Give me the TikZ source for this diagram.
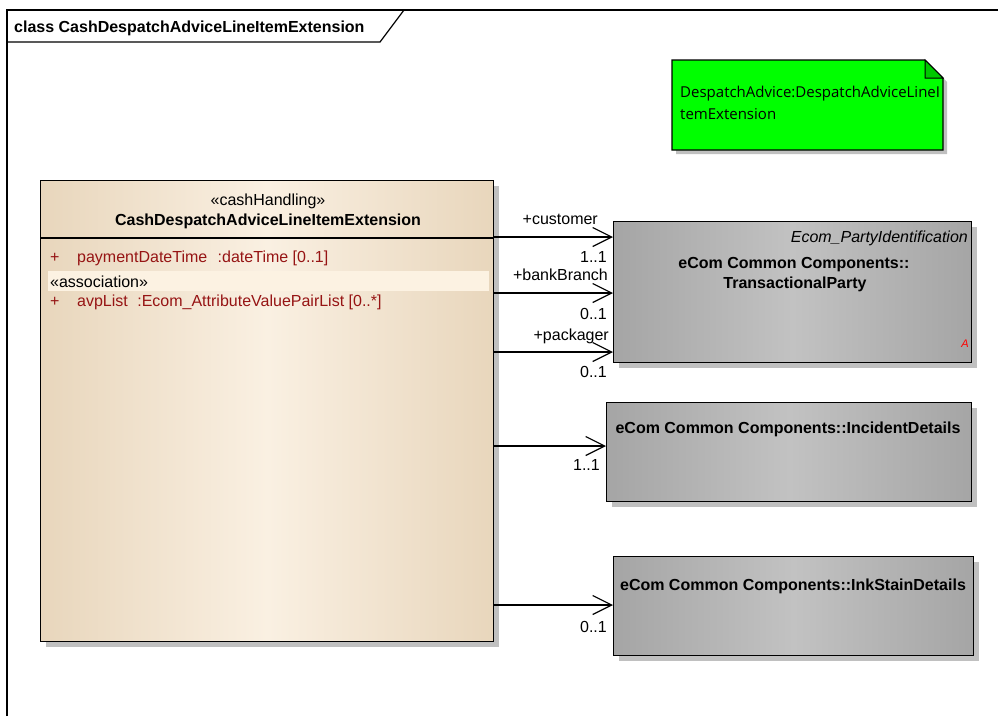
\documentclass[tikz,border=0pt]{standalone}
\usepackage{fontspec}
\setmainfont{Liberation Sans}
\newfontfamily\notefont{Open Sans}
\usetikzlibrary{arrows.meta,shadows}
\definecolor{attrred}{RGB}{150,20,20}
\definecolor{tanedge}{RGB}{232,214,188}
\definecolor{tanmid}{RGB}{250,240,226}
\definecolor{greyedge}{RGB}{165,165,165}
\definecolor{greymid}{RGB}{194,194,194}
\definecolor{shadowgrey}{RGB}{192,192,192}
\definecolor{notegreen}{RGB}{0,255,0}
\definecolor{foldgreen}{RGB}{0,200,0}
\definecolor{rowhl}{RGB}{252,242,226}
\tikzset{
  txt/.style={inner sep=0pt, font=\fontsize{16}{19}\selectfont},
  btxt/.style={inner sep=0pt, font=\fontsize{16}{19}\selectfont\bfseries},
  attr/.style={inner sep=0pt, text=attrred, font=\fontsize{16}{19}\selectfont},
  myshadow/.style={drop shadow={shadow xshift=5pt, shadow yshift=-5pt, fill=shadowgrey, opacity=1}},
  classbox/.style={draw=black, line width=1.2pt, inner sep=0pt, anchor=north west,
    left color=tanedge, right color=tanedge, middle color=tanmid, myshadow},
  greybox/.style={draw=black, line width=1.2pt, inner sep=0pt, anchor=north west,
    left color=greyedge, right color=greyedge, middle color=greymid, myshadow},
  assoc/.style={line width=1.2pt, -{Straight Barb[length=19pt,width=19pt,line width=1.2pt]}},
}
\begin{document}
\begin{tikzpicture}[x=1pt,y=-1pt]
\useasboundingbox (0,0) rectangle (998,716);
% frame
\draw[line width=1.2pt] (7,716) -- (7,10) -- (998,10);
\draw[line width=1.2pt] (7,42) -- (380,42) -- (404,10);
\node[btxt, anchor=base west] (title) at (14,32) {class CashDespatchAdviceLineItemExtension};
% note
\fill[shadowgrey] (676,64) -- (929,64) -- (947,82) -- (947,154) -- (676,154) -- cycle;
\draw[line width=1.2pt, fill=notegreen] (672,60) -- (925,60) -- (943,78) -- (943,150) -- (672,150) -- cycle;
\draw[line width=1pt, fill=foldgreen] (925,60) -- (925,78) -- (943,78) -- cycle;
\node[inner sep=0pt, anchor=base west, font=\notefont\fontsize{15}{22}\selectfont, align=left] (note) at (680,119)
  {DespatchAdvice:DespatchAdviceLineI\\temExtension};
% class box
\node[classbox, minimum width=453pt, minimum height=461pt] (cls) at (40,180) {};
\draw[line width=1.2pt] (40,238) -- (493,238);
\fill[rowhl] (48,271) rectangle (489,291);
\node[txt, anchor=base] (st) at (268,205) {«cashHandling»};
\node[btxt, anchor=base] (cn) at (268,225) {CashDespatchAdviceLineItemExtension};
\node[attr, anchor=base west] (p1) at (50,262) {+};
\node[attr, anchor=base west] (a1) at (77,262) {paymentDateTime\hspace{6pt} :dateTime [0..1]};
\node[txt, anchor=base west] (as) at (50,287) {«association»};
\node[attr, anchor=base west] (p2) at (50,306) {+};
\node[attr, anchor=base west] (a2) at (77,306) {avpList\hspace{5pt} :Ecom\_AttributeValuePairList [0..*]};
% grey boxes
\node[greybox, minimum width=358pt, minimum height=141pt] (tp) at (613,221) {};
\node[inner sep=0pt, anchor=base east, font=\fontsize{16}{19}\selectfont\itshape] (tps) at (968,242) {Ecom\_PartyIdentification};
\node[btxt, anchor=base] (tpn1) at (794,268) {eCom Common Components::};
\node[btxt, anchor=base] (tpn2) at (795,288) {TransactionalParty};
\node[inner sep=0pt, anchor=base east, text=red, font=\fontsize{11}{13}\selectfont\itshape] (abs) at (969,347) {A};
\node[greybox, minimum width=365pt, minimum height=99pt] (inc) at (606,402) {};
\node[btxt, anchor=base] (incn) at (788,433) {eCom Common Components::IncidentDetails};
\node[greybox, minimum width=360pt, minimum height=99pt] (ink) at (613,556) {};
\node[btxt, anchor=base] (inkn) at (793,590) {eCom Common Components::InkStainDetails};
% connectors
\coordinate (t1) at (613,237);
\coordinate (t2) at (613,293);
\coordinate (t3) at (613,352);
\coordinate (t4) at (606,446);
\coordinate (t5) at (613,605);
\draw[assoc] (cls.east |- t1) -- (t1);
\draw[assoc] (cls.east |- t2) -- (t2);
\draw[assoc] (cls.east |- t3) -- (t3);
\draw[assoc] (cls.east |- t4) -- (t4);
\draw[assoc] (cls.east |- t5) -- (t5);
% connector labels
\node[txt, anchor=base east] (l1) at (598,224) {+customer};
\node[txt, anchor=base east] (m1) at (607,262) {1..1};
\node[txt, anchor=base east] (l2) at (608,280) {+bankBranch};
\node[txt, anchor=base east] (m2) at (607,319) {0..1};
\node[txt, anchor=base east] (l3) at (609,340) {+packager};
\node[txt, anchor=base east] (m3) at (607,377) {0..1};
\node[txt, anchor=base east] (m4) at (600,470) {1..1};
\node[txt, anchor=base east] (m5) at (607,632) {0..1};
\end{tikzpicture}
\end{document}
